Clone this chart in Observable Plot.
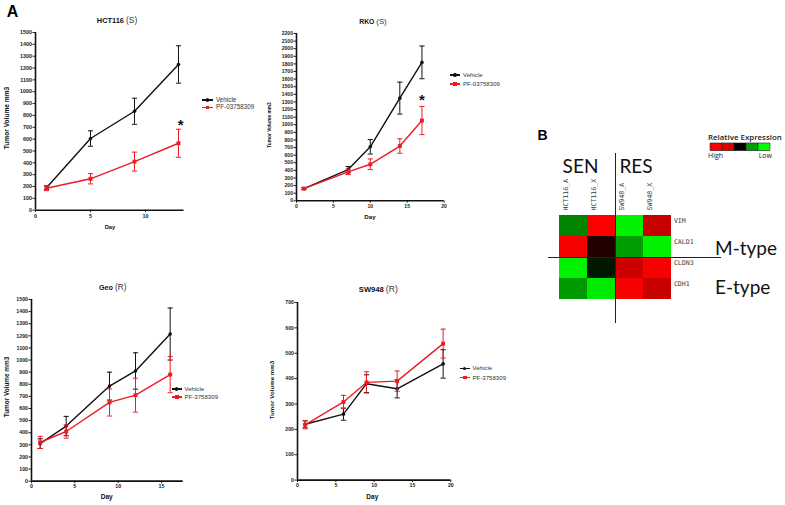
<!DOCTYPE html>
<html>
<head>
<meta charset="utf-8">
<script src="https://cdn.jsdelivr.net/npm/d3@7"></script>
<script src="https://cdn.jsdelivr.net/npm/@observablehq/plot@0.6"></script>
<style>
  html, body { margin: 0; padding: 0; background: #fff; }
  #fig { position: relative; width: 785px; height: 505px; background: #fff; overflow: hidden; }
  #fig svg { position: absolute; overflow: visible; }
  .t { position: absolute; white-space: nowrap; line-height: 1; }
</style>
</head>
<body>
<div id="fig"></div>
<script>
// ---------------- DATA ----------------
// HCT116 (S)
const hctDays = [1, 5, 9, 13];
const hctVehMean = [190, 605, 835, 1230];
const hctVehErr  = [15, 65, 110, 158];
const hctPfMean  = [185, 265, 410, 565];
const hctPfErr   = [20, 43, 80, 118];
const hctXTicks = [0, 5, 10];
const hctYTicks = [0,100,200,300,400,500,600,700,800,900,1000,1100,1200,1300,1400,1500];

// RKO (S)
const rkoDays = [1, 7, 10, 14, 17];
const rkoVehMean = [160, 410, 710, 1350, 1820];
const rkoVehErr  = [12, 40, 95, 210, 215];
const rkoPfMean  = [160, 380, 480, 720, 1055];
const rkoPfErr   = [12, 35, 70, 95, 185];
const rkoXTicks = [0, 5, 10, 15, 20];
const rkoYTicks = [0,100,200,300,400,500,600,700,800,900,1000,1100,1200,1300,1400,1500,1600,1700,1800,1900,2000,2100,2200];

// Geo (R)
const geoDays = [1, 4, 9, 12, 16];
const geoVehMean = [310, 455, 785, 910, 1215];
const geoVehErr  = [40, 80, 115, 150, 215];
const geoPfMean  = [320, 410, 650, 710, 880];
const geoPfErr   = [50, 55, 112, 140, 150];
const geoXTicks = [0, 5, 10, 15];
const geoYTicks = [0,100,200,300,400,500,600,700,800,900,1000,1100,1200,1300,1400,1500];

// SW948 (R)
const swDays = [1, 6, 9, 13, 19];
const swVehMean = [220, 260, 380, 360, 458];
const swVehErr  = [14, 24, 35, 36, 56];
const swPfMean  = [218, 308, 385, 390, 538];
const swPfErr   = [16, 26, 42, 40, 57];
const swXTicks = [0, 5, 10, 15, 20];
const swYTicks = [0, 100, 200, 300, 400, 500, 600, 700];

// significance marks
const hctStar = [{day: 13.2, vol: 745}];
const rkoStar = [{day: 17, vol: 1360}];

// Heatmap (panel B)
const genes = ["VIM", "CALD1", "CLDN3", "CDH1"];
const samples = ["HCT116_A", "HCT116_X", "SW948_A", "SW948_X"];
const expVIM   = [-0.52, 1.0, -0.95, 0.78];
const expCALD1 = [0.97, 0.13, -0.62, -0.95];
const expCLDN3 = [-0.95, -0.09, 0.8, 0.97];
const expCDH1  = [-0.6, -0.92, 0.97, 0.78];
const legendValues = [1, 0.87, 0, -0.62, -1];

const vehColor = "#111111";
const pfColor = "#ec1c24";

// ---------------- HELPERS ----------------
const fig = document.getElementById("fig");

function addText(html, x, y, o = {}) {
  const el = document.createElement("div");
  el.className = "t";
  el.innerHTML = html;
  const ax = o.anchor === "start" ? "0" : o.anchor === "end" ? "-100%" : "-50%";
  Object.assign(el.style, {
    left: x + "px", top: y + "px",
    transform: `translate(${ax},-50%)` + (o.rotate ? ` rotate(${o.rotate}deg)` : ""),
    fontFamily: o.font || "'Liberation Sans', Arial, sans-serif",
    fontSize: (o.size || 6) + "px",
    fontWeight: o.weight || "normal",
    color: o.color || "#111"
  });
  fig.appendChild(el);
  return el;
}

function series(days, mean, err) {
  return days.map((d, i) => ({day: d, vol: mean[i], lo: mean[i] - err[i], hi: mean[i] + err[i]}));
}

const capSymbol = {
  draw(context, size) {
    const r = Math.sqrt(size / Math.PI);
    context.moveTo(-r, 0);
    context.lineTo(r, 0);
  }
};

function seriesMarks(data, color, symbol) {
  return [
    Plot.ruleX(data, {x: "day", y1: "lo", y2: "hi", stroke: color, strokeWidth: 1}),
    Plot.dot(data, {x: "day", y: "lo", symbol: capSymbol, r: 2.6, fill: "none", stroke: color, strokeWidth: 1}),
    Plot.dot(data, {x: "day", y: "hi", symbol: capSymbol, r: 2.6, fill: "none", stroke: color, strokeWidth: 1}),
    Plot.line(data, {x: "day", y: "vol", stroke: color, strokeWidth: 1.4}),
    Plot.dot(data, {x: "day", y: "vol", symbol, r: symbol === "square" ? 2.2 : 1.8, fill: color, stroke: "none"})
  ];
}

const fmt = d => String(d);

function linePanel(c) {
  const mL = 30, mT = 6, mR = 4, mB = 14;
  const left = c.ox - mL, top = c.yTop - mT;
  const width = c.xEnd - left + mR, height = c.oy - top + mB;
  const veh = series(c.days, c.vehMean, c.vehErr);
  const pf = series(c.days, c.pfMean, c.pfErr);
  const chart = Plot.plot({
    width, height,
    marginLeft: mL, marginTop: mT, marginRight: mR, marginBottom: mB,
    x: {domain: c.xDomain, ticks: c.xTicks, tickSize: 2.5, tickPadding: 1, label: null, tickFormat: fmt},
    y: {domain: c.yDomain, ticks: c.yTicks, tickSize: 2.5, tickPadding: 1, label: null, tickFormat: fmt},
    style: {fontFamily: "'Liberation Sans', Arial, sans-serif", fontSize: c.tickSize + "px", fontWeight: "bold", color: "#222", background: "none"},
    marks: [
      Plot.ruleX([c.xDomain[0]], {stroke: "#111", strokeWidth: 1.6}),
      Plot.ruleY([c.yDomain[0]], {stroke: "#111", strokeWidth: 1.6}),
      ...seriesMarks(veh, vehColor, "circle"),
      ...seriesMarks(pf, pfColor, "square"),
      ...(c.star ? [Plot.text(c.star, {x: "day", y: "vol", text: () => "*", fontSize: 15, fontWeight: "bold", fill: "#111", dy: 3})] : [])
    ]
  });
  chart.style.left = left + "px";
  chart.style.top = top + "px";
  fig.appendChild(chart);

  // title, axis labels
  addText(`<b>${c.name}</b> <span style="font-weight:normal;font-size:${c.titleSize + 1}px;color:#333">${c.tag}</span>`,
    c.titleX, c.titleY, {size: c.titleSize});
  addText("Day", c.dayX, c.dayY, {size: c.daySize, weight: "bold"});
  addText("Tumor Volume mm3", c.ylabX, c.ylabY, {size: c.ylabSize, weight: "bold", rotate: -90});

  // legend
  const rows = [[ "Vehicle", vehColor, "circle"], [c.pfLabel, pfColor, "square"]];
  rows.forEach(([label, color, shape], i) => {
    const y = c.legY[i];
    const line = document.createElement("div");
    Object.assign(line.style, {position: "absolute", left: c.legX + "px", top: (y - 0.7) + "px",
      width: c.legLen + "px", height: "1.4px", background: color});
    fig.appendChild(line);
    const mk = document.createElement("div");
    const s = shape === "square" ? 3.6 : 3.4;
    Object.assign(mk.style, {position: "absolute", left: (c.legX + c.legLen / 2 - s / 2) + "px", top: (y - s / 2) + "px",
      width: s + "px", height: s + "px", background: color, borderRadius: shape === "circle" ? "50%" : "0"});
    fig.appendChild(mk);
    addText(label, c.legX + c.legLen + 3, y, {size: c.legSize, anchor: "start", color: "#333"});
  });
}

// ---------------- PANEL A ----------------
addText("A", 12.5, 12, {size: 16, weight: "bold", color: "#000"});

linePanel({
  name: "HCT116", tag: "(S)", titleX: 117, titleY: 20, titleSize: 7.4,
  days: hctDays, vehMean: hctVehMean, vehErr: hctVehErr, pfMean: hctPfMean, pfErr: hctPfErr,
  xDomain: [0, 13.5], yDomain: [0, 1500], xTicks: hctXTicks, yTicks: hctYTicks,
  ox: 35, oy: 210, xEnd: 183.5, yTop: 32.3, tickSize: 5.4,
  dayX: 110, dayY: 228, daySize: 5.8, ylabX: 7, ylabY: 118, ylabSize: 6.6,
  legX: 202, legLen: 11, legY: [100, 107.3], legSize: 6.3, pfLabel: "PF-03758309",
  star: hctStar
});

linePanel({
  name: "RKO", tag: "(S)", titleX: 373, titleY: 22, titleSize: 6.8,
  days: rkoDays, vehMean: rkoVehMean, vehErr: rkoVehErr, pfMean: rkoPfMean, pfErr: rkoPfErr,
  xDomain: [0, 20], yDomain: [0, 2200], xTicks: rkoXTicks, yTicks: rkoYTicks,
  ox: 295.7, oy: 200, xEnd: 443.3, yTop: 32.7, tickSize: 5.1,
  dayX: 370, dayY: 216.7, daySize: 6.2, ylabX: 270, ylabY: 125, ylabSize: 4.8,
  legX: 450, legLen: 10, legY: [75, 84], legSize: 6.1, pfLabel: "PF-03758309",
  star: rkoStar
});

linePanel({
  name: "Geo", tag: "(R)", titleX: 112.7, titleY: 288.3, titleSize: 7.2,
  days: geoDays, vehMean: geoVehMean, vehErr: geoVehErr, pfMean: geoPfMean, pfErr: geoPfErr,
  xDomain: [0, 17.5], yDomain: [0, 1500], xTicks: geoXTicks, yTicks: geoYTicks,
  ox: 31, oy: 481, xEnd: 182.7, yTop: 299.3, tickSize: 5.3,
  dayX: 106.7, dayY: 497.3, daySize: 6.6, ylabX: 6.7, ylabY: 386.7, ylabSize: 6.4,
  legX: 172, legLen: 9.5, legY: [389, 397], legSize: 6.1, pfLabel: "PF-3758309"
});

linePanel({
  name: "SW948", tag: "(R)", titleX: 378.3, titleY: 289, titleSize: 7.6,
  days: swDays, vehMean: swVehMean, vehErr: swVehErr, pfMean: swPfMean, pfErr: swPfErr,
  xDomain: [0, 20], yDomain: [0, 700], xTicks: swXTicks, yTicks: swYTicks,
  ox: 296.7, oy: 479.3, xEnd: 450, yTop: 301.7, tickSize: 5.2,
  dayX: 372.3, dayY: 496.7, daySize: 6.5, ylabX: 271.7, ylabY: 390, ylabSize: 6.2,
  legX: 460, legLen: 9.5, legY: [368.3, 377.7], legSize: 6.1, pfLabel: "PF-3758309"
});

// ---------------- PANEL B ----------------
addText("B", 542.5, 135, {size: 14, weight: "bold", color: "#000"});

const expRows = [expVIM, expCALD1, expCLDN3, expCDH1];
const cells = [];
genes.forEach((g, i) => samples.forEach((s, j) => cells.push({gene: g, sample: s, value: expRows[i][j]})));

const colorScale = {type: "linear", domain: [-1, 0, 1], range: ["#00ff00", "#000000", "#ff0000"], interpolate: "rgb"};

{
  const hmLeft = 558.3, cellsTop = 214, cellsW = 113.4, cellsH = 85.3;
  const mT = 40, mR = 32;
  const heat = Plot.plot({
    width: cellsW + mR, height: cellsH + mT,
    marginLeft: 0, marginTop: mT, marginRight: mR, marginBottom: 0,
    x: {domain: samples, padding: 0, axis: null},
    y: {domain: genes, padding: 0, axis: null},
    color: colorScale,
    style: {background: "none"},
    marks: [
      Plot.cell(cells, {x: "sample", y: "gene", fill: "value"}),
      Plot.text(samples, {x: d => d, frameAnchor: "top", rotate: -90, textAnchor: "start", dy: -4, dx: -10,
        fontFamily: "'DejaVu Sans Mono', monospace", fontSize: 6.6, fill: "#3a3a3a"}),
      Plot.text(genes, {y: d => d, frameAnchor: "right", textAnchor: "start", dx: 2, dy: -5.5,
        fontFamily: "'DejaVu Sans Mono', monospace", fontSize: 6.6, fill: "#3a3a3a"})
    ]
  });
  heat.style.left = hmLeft + "px";
  heat.style.top = (cellsTop - mT) + "px";
  fig.appendChild(heat);

  // color legend bar
  const bar = Plot.plot({
    width: 63.7, height: 7.7, margin: 0,
    x: {domain: legendValues.map((v, i) => i), padding: 0, axis: null},
    color: colorScale,
    style: {background: "none"},
    marks: [
      Plot.cell(legendValues.map((v, i) => ({i, v})), {x: "i", fill: "v", stroke: "#222", strokeWidth: 0.6})
    ]
  });
  bar.style.left = "708px";
  bar.style.top = "143.3px";
  fig.appendChild(bar);
}

addText("Relative Expression", 708, 137.5, {size: 7.9, anchor: "start", color: "#222", font: "'Open Sans', sans-serif", weight: "600"});
addText("High", 708, 155, {size: 7, anchor: "start", color: "#222", font: "'Open Sans', sans-serif"});
addText("Low", 772, 155, {size: 7, anchor: "end", color: "#222", font: "'Open Sans', sans-serif"});

addText("SEN", 580.5, 165, {size: 19, color: "#111", font: "Lato, sans-serif"});
addText("RES", 636, 165, {size: 19, color: "#111", font: "Lato, sans-serif"});
addText("M-type", 715, 246.5, {size: 19, anchor: "start", color: "#111", font: "Lato, sans-serif"});
addText("E-type", 715, 286, {size: 19, anchor: "start", color: "#111", font: "Lato, sans-serif"});

// separator lines
function sep(x, y, w, h) {
  const d = document.createElement("div");
  Object.assign(d.style, {position: "absolute", left: x + "px", top: y + "px", width: w + "px", height: h + "px", background: "#222"});
  fig.appendChild(d);
}
sep(614.5, 153, 1, 170);
sep(548, 256.8, 173, 1);
</script>
</body>
</html>
